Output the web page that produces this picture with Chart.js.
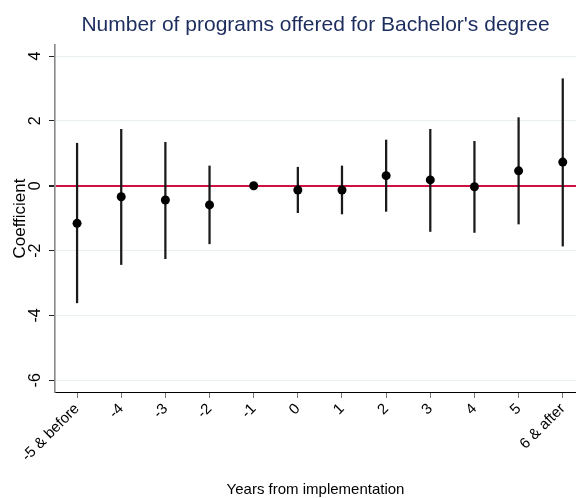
<!DOCTYPE html>
<html>
<head>
<meta charset="utf-8">
<script src="https://cdn.jsdelivr.net/npm/chart.js@4.4.1/dist/chart.umd.min.js"></script>
<style>
  html, body { margin: 0; padding: 0; background: #fff; }
</style>
</head>
<body>
<canvas id="coefChart" width="576" height="498"></canvas>
<script>
// event-study estimates
const periods = ['-5 & before', '-4', '-3', '-2', '-1', '0', '1', '2', '3', '4', '5', '6 & after'];
const coefs  = [-1.16, -0.34, -0.44, -0.59, 0, -0.13, -0.13, 0.31, 0.18, -0.03, 0.46, 0.73];
const ciLow  = [-3.61, -2.43, -2.25, -1.79, 0, -0.83, -0.87, -0.79, -1.41, -1.44, -1.18, -1.86];
const ciHigh = [1.31, 1.74, 1.34, 0.61, 0, 0.57, 0.61, 1.41, 1.74, 1.37, 2.10, 3.30];
const yTicks = [-6, -4, -2, 0, 2, 4];

const sansFont = '"Liberation Sans", Arial, sans-serif';

const ciBars = periods.map((_, i) => ({ x: i, y: [ciLow[i], ciHigh[i]] }));
const points = periods.map((_, i) => ({ x: i, y: coefs[i] }));

const coefChart = new Chart(document.getElementById('coefChart'), {
    type: 'bar',
    data: {
        datasets: [
            {
                type: 'line',
                label: 'Coefficient',
                data: points,
                showLine: false,
                pointRadius: 4.5,
                pointBackgroundColor: '#000',
                pointBorderColor: '#000',
                pointBorderWidth: 0,
                order: 0
            },
            {
                label: '95% CI',
                data: ciBars,
                backgroundColor: '#1a1a1a',
                borderWidth: 0,
                barThickness: 1.6,
                grouped: false,
                order: 1
            }
        ]
    },
    options: {
        responsive: false,
        animation: false,
        devicePixelRatio: 1,
        layout: { padding: 0, autoPadding: false },
        plugins: {
            legend: { display: false },
            tooltip: { enabled: false },
            title: {
                display: true,
                text: "Number of programs offered for Bachelor's degree",
                color: '#1c2d5e',
                fullSize: false,
                font: { family: sansFont, size: 21, weight: 'normal', lineHeight: 1.2 },
                padding: { top: 13, bottom: 6.8 }
            }
        },
        scales: {
            x: {
                type: 'linear',
                offset: false,
                min: -0.5,
                max: 11.3,
                afterBuildTicks: (scale) => {
                    scale.ticks = periods.map((_, i) => ({ value: i }));
                },
                afterFit: (scale) => {
                    scale.height = 106;
                    scale.paddingRight = 0;
                },
                grid: {
                    offset: false,
                    drawOnChartArea: false,
                    drawTicks: true,
                    tickLength: 6,
                    tickColor: '#777'
                },
                border: { color: '#000', width: 1 },
                ticks: {
                    minRotation: 45,
                    maxRotation: 45,
                    padding: 2,
                    color: '#000',
                    font: { family: sansFont, size: 15 },
                    callback: (v) => periods[v]
                },
                title: {
                    display: true,
                    text: 'Years from implementation',
                    color: '#000',
                    font: { family: sansFont, size: 15, lineHeight: 1 },
                    padding: { top: 0, bottom: 1 }
                }
            },
            y: {
                min: -6.36,
                max: 4.34,
                afterBuildTicks: (scale) => {
                    scale.ticks = yTicks.map(v => ({ value: v }));
                },
                afterFit: (scale) => { scale.width = 55; },
                grid: {
                    color: (ctx) => ctx.tick && ctx.tick.value === 0 ? '#d01040' : '#e9f0f2',
                    lineWidth: (ctx) => ctx.tick && ctx.tick.value === 0 ? 2 : 1,
                    drawTicks: true,
                    tickLength: 6,
                    tickColor: '#222'
                },
                border: { color: '#888', width: 1.6 },
                ticks: {
                    minRotation: 90,
                    maxRotation: 90,
                    crossAlign: 'center',
                    padding: 6,
                    color: '#000',
                    font: { family: sansFont, size: 16 }
                },
                title: {
                    display: true,
                    text: 'Coefficient',
                    color: '#000',
                    font: { family: sansFont, size: 17, lineHeight: 1.2 },
                    padding: { top: 10, bottom: 0 }
                }
            }
        }
    }
});
</script>
</body>
</html>
